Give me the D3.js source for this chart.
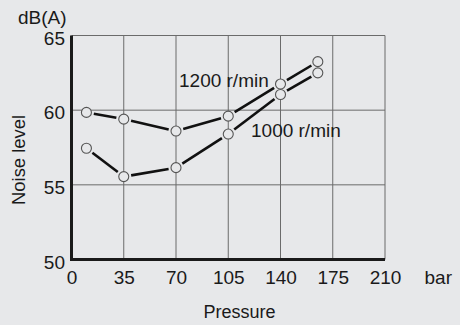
<!DOCTYPE html>
<html>
<head>
<meta charset="utf-8">
<script src="https://cdn.jsdelivr.net/npm/d3@7"></script>
<style>
  html, body { margin: 0; padding: 0; background: #e7e8ea; }
  svg { display: block; }
  text { font-family: "Liberation Sans", Arial, Helvetica, sans-serif; fill: #1a1a1a; }
</style>
</head>
<body>
<svg id="chart" width="460" height="325"></svg>
<script>
// Noise level vs. pump pressure at two shaft speeds
const pressure = [10, 35, 70, 105, 140, 165];
const noise1200 = [59.85, 59.4, 58.6, 59.6, 61.75, 63.25];
const noise1000 = [57.45, 55.55, 56.15, 58.4, 61.05, 62.5];
const xTicks = [0, 35, 70, 105, 140, 175, 210];
const yTicks = [50, 55, 60, 65];
const seriesLabels = ["1200 r/min", "1000 r/min"];

const svg = d3.select("#chart");
const m = { left: 71.5, right: 385, top: 35.5, bottom: 259.5 };

const x = d3.scaleLinear().domain([0, 210]).range([m.left, m.right]);
const y = d3.scaleLinear().domain([50, 65]).range([m.bottom, m.top]);

// grid
const grid = svg.append("g").attr("stroke", "#6b6b6b").attr("stroke-width", 1);
grid.selectAll("line.v").data(xTicks.slice(1)).join("line")
  .attr("x1", d => x(d)).attr("x2", d => x(d))
  .attr("y1", m.top).attr("y2", m.bottom);
grid.selectAll("line.h").data(yTicks.slice(1)).join("line")
  .attr("x1", m.left).attr("x2", m.right)
  .attr("y1", d => y(d)).attr("y2", d => y(d));

// axes (ticks drawn as labels only)
const tickFs = "19px";
const xAxis = svg.append("g").attr("transform", `translate(0,${m.bottom})`)
  .call(d3.axisBottom(x).tickValues(xTicks).tickSize(0).tickPadding(11));
const yAxis = svg.append("g").attr("transform", `translate(${m.left},0)`)
  .call(d3.axisLeft(y).tickValues(yTicks).tickSize(0).tickPadding(6.5));
[xAxis, yAxis].forEach(a => {
  a.select(".domain").remove();
  a.selectAll("text").style("font-size", tickFs).attr("fill", "#1a1a1a")
    .attr("font-family", "Liberation Sans, Arial, sans-serif");
});
yAxis.selectAll("text").attr("dy", "0.45em");

svg.append("line").attr("x1", m.left).attr("x2", m.left)
  .attr("y1", m.top).attr("y2", m.bottom + 1.5)
  .attr("stroke", "#1a1a1a").attr("stroke-width", 3);
svg.append("line").attr("x1", m.left - 1.5).attr("x2", m.right)
  .attr("y1", m.bottom).attr("y2", m.bottom)
  .attr("stroke", "#1a1a1a").attr("stroke-width", 3);

// series: segments stop short of the circle markers
const r = 5;
function drawSeries(vals) {
  const pts = pressure.map((p, i) => [x(p), y(vals[i])]);
  const segs = d3.pairs(pts);
  const g = svg.append("g");
  g.selectAll("line").data(segs).join("line")
    .each(function([a, b]) {
      const dx = b[0] - a[0], dy = b[1] - a[1];
      const len = Math.hypot(dx, dy), gap = r + 2.5;
      const ux = dx / len, uy = dy / len;
      d3.select(this)
        .attr("x1", a[0] + ux * gap).attr("y1", a[1] + uy * gap)
        .attr("x2", b[0] - ux * gap).attr("y2", b[1] - uy * gap);
    })
    .attr("stroke", "#111").attr("stroke-width", 2.6);
  g.selectAll("circle").data(pts).join("circle")
    .attr("cx", d => d[0]).attr("cy", d => d[1]).attr("r", r)
    .attr("fill", "#e7e8ea").attr("stroke", "#555").attr("stroke-width", 1.1);
}
drawSeries(noise1200);
drawSeries(noise1000);

// labels
svg.append("text").attr("x", 18).attr("y", 23.5).style("font-size", "19px").text("dB(A)");
svg.append("text").attr("x", 424.5).attr("y", 284).style("font-size", tickFs).text("bar");
svg.append("text").attr("x", 239.5).attr("y", 318).attr("text-anchor", "middle")
  .style("font-size", "18px").text("Pressure");
svg.append("text").attr("transform", "translate(25,160) rotate(-90)")
  .attr("text-anchor", "middle").style("font-size", "18.4px").text("Noise level");
svg.append("text").attr("x", 179).attr("y", 87).style("font-size", "19px").text(seriesLabels[0]);
svg.append("text").attr("x", 251).attr("y", 137).style("font-size", "19px").text(seriesLabels[1]);
</script>
</body>
</html>
